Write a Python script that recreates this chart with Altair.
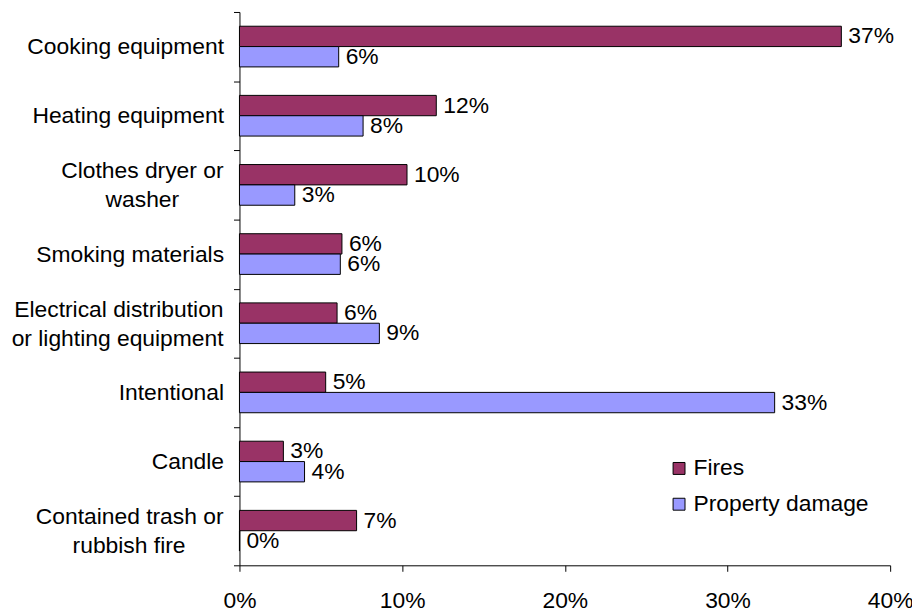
import altair as alt
import pandas as pd

NB = "\u00a0"    # no-break space
ZW = "\u200b"    # zero-width space keeps the padding from being trimmed

# ---- data ----
# multi-line labels: shorter lines padded so that they sit centred
# under the longer line (as Excel draws them)
categories = [
    "Cooking equipment",
    "Heating equipment",
    "Clothes dryer or\nwasher" + NB * 7 + ZW,
    "Smoking materials",
    "Electrical distribution\nor lighting equipment",
    "Intentional",
    "Candle",
    "Contained trash or\nrubbish fire" + NB * 6 + ZW,
]
fires = [37.0, 12.1, 10.3, 6.3, 6.0, 5.3, 2.7, 7.2]
property_damage = [6.1, 7.6, 3.4, 6.2, 8.6, 32.9, 4.0, 0.0]
series = ["Fires", "Property damage"]
colors = ["#993366", "#9999FF"]
x_ticks = [0, 10, 20, 30, 40]

rows = []
for c, f, p in zip(categories, fires, property_damage):
    rows.append({"cause": c, "series": series[0], "pct": f})
    rows.append({"cause": c, "series": series[1], "pct": p})
df = pd.DataFrame(rows)

FONT = "Liberation Sans"
FS = 23
LH = 29.5
LABEL_GAP = 16  # tick (6) + label padding (10)

y_enc = alt.Y(
    "cause:N",
    sort=categories,
    scale=alt.Scale(paddingInner=0, paddingOuter=0),
    axis=alt.Axis(
        title=None,
        tickBand="extent",
        tickSize=6,
        tickColor="black",
        domainColor="black",
        labelColor="black",
        labelFont=FONT,
        labelFontSize=FS,
        labelLimit=400,
        labelPadding=LABEL_GAP - 6,
        # two-line labels are drawn by the text layer below
        labelExpr="indexof(datum.label, '\\n') >= 0 ? '' : datum.label",
    ),
)
yoff_enc = alt.YOffset(
    "series:N", sort=series, scale=alt.Scale(paddingInner=0, paddingOuter=0.7)
)

base = alt.Chart(df).encode(y=y_enc, yOffset=yoff_enc)

bars = base.mark_bar(stroke="black", strokeWidth=1).encode(
    x=alt.X(
        "pct:Q",
        scale=alt.Scale(domain=[0, 40], nice=False),
        axis=alt.Axis(
            title=None,
            values=x_ticks,
            labelExpr="datum.value + '%'",
            grid=False,
            tickSize=6,
            tickColor="black",
            domainColor="black",
            labelColor="black",
            labelFont=FONT,
            labelFontSize=FS,
            labelPadding=18,
            labelFlush=False,
        ),
    ),
    color=alt.Color(
        "series:N",
        sort=series,
        scale=alt.Scale(domain=series, range=colors),
        legend=alt.Legend(
            title=None,
            orient="none",
            legendX=431,
            legendY=448,
            padding=0,
            symbolType="square",
            symbolSize=144,
            symbolStrokeColor="black",
            symbolStrokeWidth=1,
            labelFont=FONT,
            labelFontSize=FS,
            labelColor="black",
            labelOffset=3,
            labelLimit=400,
            rowPadding=12,
        ),
    ),
)

value_labels = (
    base.mark_text(
        align="left", baseline="middle", dx=7, font=FONT, fontSize=FS, color="black"
    )
    .encode(x="pct:Q", text="lbl:N")
    .transform_calculate(lbl="format(datum.pct, '.0f') + '%'")
)

# two-line category labels, centred vertically on their band
cat_labels = (
    alt.Chart(df)
    .transform_filter(f"datum.series == '{series[0]}'")
    .transform_filter("indexof(datum.cause, '\\n') >= 0")
    .mark_text(
        align="right",
        baseline="middle",
        lineBreak="\n",
        lineHeight=LH,
        dy=-LH / 2 + 1,
        font=FONT,
        fontSize=FS,
        color="black",
    )
    .encode(
        y=alt.Y("cause:N", sort=categories),
        x=alt.value(-LABEL_GAP),
        text="cause:N",
    )
)

chart = (
    alt.layer(bars, value_labels, cat_labels)
    .properties(
        width=655,
        height=557,
        autosize=alt.AutoSizeParams(type="none"),
        padding={"left": 233, "top": 2, "right": 22, "bottom": 46},
        background="white",
    )
    .configure_view(stroke=None)
)

chart.save("out.html", embed_options={"renderer": "svg", "actions": False})
